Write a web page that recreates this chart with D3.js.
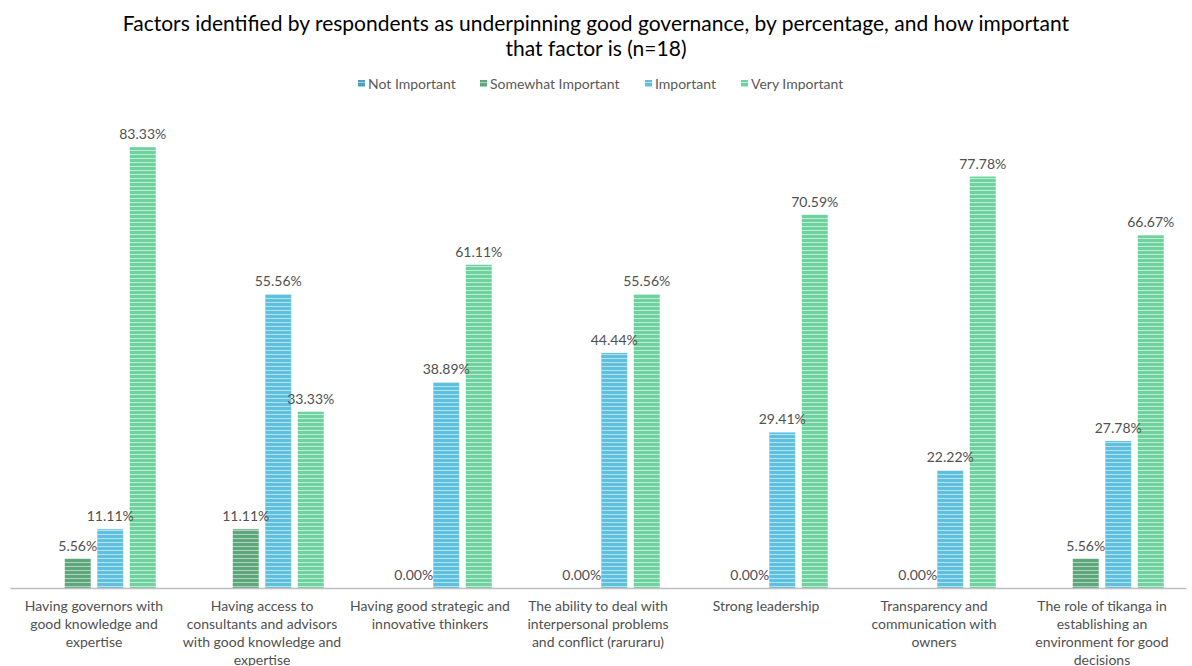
<!DOCTYPE html>
<html>
<head>
<meta charset="utf-8">
<script src="https://cdn.jsdelivr.net/npm/d3@7"></script>
<style>
  html, body { margin: 0; padding: 0; background: #fff; }
  svg { display: block; }
</style>
</head>
<body>
<svg id="chart" width="1192" height="666"></svg>
<script>
// Survey categories (factors), with their line breaks, and response shares per importance level
const categories = [
  "Having governors with\ngood knowledge and\nexpertise",
  "Having access to\nconsultants and advisors\nwith good knowledge and\nexpertise",
  "Having good strategic and\ninnovative thinkers",
  "The ability to deal with\ninterpersonal problems\nand conflict (raruraru)",
  "Strong leadership",
  "Transparency and\ncommunication with\nowners",
  "The role of tikanga in\nestablishing an\nenvironment for good\ndecisions"
];
const seriesNames = ["Not Important", "Somewhat Important", "Important", "Very Important"];
// Not Important has no responses recorded for any factor
const notImportant      = [null, null, null, null, null, null, null];
const somewhatImportant = [5.56, 11.11, 0.00, 0.00, 0.00, 0.00, 5.56];
const important         = [11.11, 55.56, 38.89, 44.44, 29.41, 22.22, 27.78];
const veryImportant     = [83.33, 33.33, 61.11, 55.56, 70.59, 77.78, 66.67];
const seriesValues = [notImportant, somewhatImportant, important, veryImportant];

const svg = d3.select("#chart");
const W = 1192;
const FONT = "Lato, 'Open Sans', sans-serif";

// Striped fills: base colour with thin lighter horizontal lines
const fills = [
  { base: "#4d9fc1", light: "#a5d0e2" },
  { base: "#5fa67c", light: "#acd6bb" },
  { base: "#5fc0de", light: "#b5e2ef" },
  { base: "#6fd19f", light: "#bdeed2" }
];
const defs = svg.append("defs");
fills.forEach((f, i) => {
  const p = defs.append("pattern")
    .attr("id", "stripe" + i)
    .attr("patternUnits", "userSpaceOnUse")
    .attr("width", 8).attr("height", 4);
  p.append("rect").attr("width", 8).attr("height", 4).attr("fill", f.base);
  p.append("rect").attr("y", 2).attr("width", 8).attr("height", 1).attr("fill", f.light);
});

// Scales
const x0 = d3.scaleBand().domain(d3.range(categories.length)).range([10, 1186]).padding(0);
const x1 = d3.scaleBand().domain(d3.range(seriesNames.length))
  .range([0, x0.bandwidth()]).paddingInner(0.2).paddingOuter(0.685);
const y = d3.scaleLinear().domain([0, 100]).range([588, 59]);

// Title
const title = svg.append("text")
  .attr("x", W / 2).attr("y", 31)
  .attr("text-anchor", "middle")
  .style("font-family", FONT)
  .style("font-size", "21px")
  .style("fill", "#000");
title.append("tspan").attr("x", W / 2).attr("dy", 0)
  .text("Factors identified by respondents as underpinning good governance, by percentage, and how important");
title.append("tspan").attr("x", W / 2).attr("dy", 25).text("that factor is (n=18)");

// Legend
const legendX = [358, 480, 645, 741];
const legend = svg.append("g");
seriesNames.forEach((name, i) => {
  const g = legend.append("g").attr("transform", `translate(${legendX[i]},84)`);
  g.append("rect").attr("x", 0).attr("y", -4).attr("width", 7).attr("height", 7)
    .attr("fill", `url(#stripe${i})`);
  g.append("text").attr("x", 10).attr("y", 0).attr("dy", "0.35em")
    .style("font-family", FONT)
    .style("font-size", "14px")
    .style("fill", "#595959")
    .text(name);
});

// Bars
const groups = svg.append("g").selectAll("g")
  .data(categories.map((c, ci) => ({ ci, vals: seriesValues.map((s, si) => ({ si, v: s[ci] })) })))
  .join("g")
  .attr("transform", d => `translate(${x0(d.ci)},0)`);

groups.selectAll("rect")
  .data(d => d.vals.filter(e => e.v !== null && e.v > 0))
  .join("rect")
  .attr("x", e => x1(e.si))
  .attr("width", x1.bandwidth())
  .attr("y", e => y(e.v))
  .attr("height", e => y(0) - y(e.v))
  .attr("fill", e => `url(#stripe${e.si})`);

// Value labels
groups.selectAll("text.val")
  .data(d => d.vals.filter(e => e.v !== null))
  .join("text")
  .attr("class", "val")
  .attr("x", e => x1(e.si) + x1.bandwidth() / 2)
  .attr("y", e => y(e.v) - 8)
  .attr("text-anchor", "middle")
  .style("font-family", FONT)
  .style("font-size", "14px")
  .style("fill", "#505050")
  .text(e => e.v.toFixed(2) + "%");

// Category axis
const axis = svg.append("g").attr("transform", `translate(0,${y(0)})`)
  .call(d3.axisBottom(x0).tickSize(0).tickFormat(""));
axis.select(".domain").attr("stroke", "#bfbfbf").attr("stroke-width", 1.3);

// Category labels, one tspan per line
const lineH = 18;
categories.forEach((c, ci) => {
  const cx = x0(ci) + x0.bandwidth() / 2;
  const t = svg.append("text")
    .attr("text-anchor", "middle")
    .attr("x", cx)
    .attr("y", y(0) + 23)
    .style("font-family", FONT)
    .style("font-size", "14px")
    .style("fill", "#505050");
  c.split("\n").forEach((line, li) => {
    t.append("tspan").attr("x", cx).attr("dy", li === 0 ? 0 : lineH).text(line);
  });
});
</script>
</body>
</html>
